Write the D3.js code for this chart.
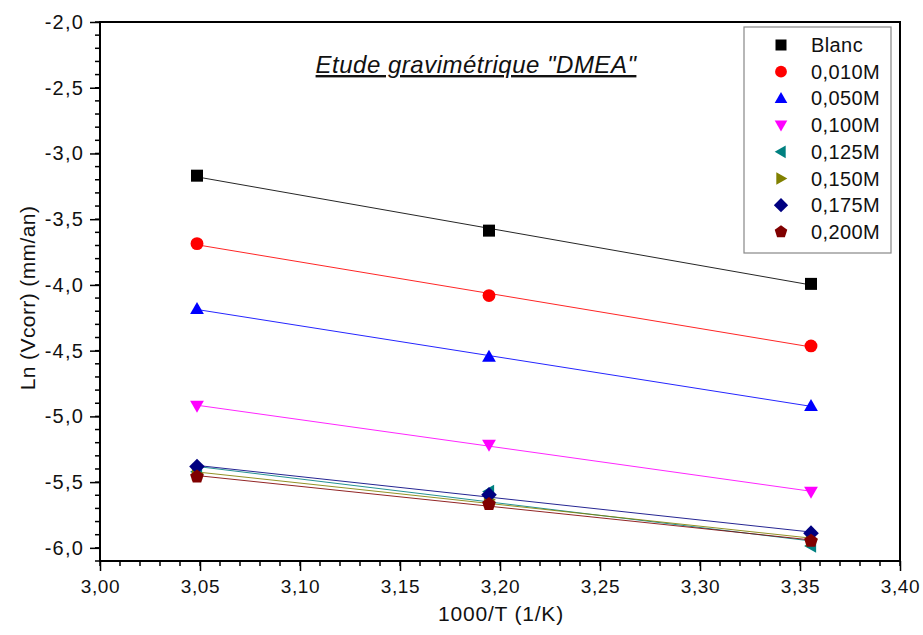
<!DOCTYPE html>
<html>
<head>
<meta charset="utf-8">
<script src="https://cdn.jsdelivr.net/npm/d3@7"></script>
<style>
  html, body { margin: 0; padding: 0; background: #fff; }
  svg { display: block; font-family: "Liberation Sans", Arial, sans-serif; }
</style>
</head>
<body>
<svg id="chart" width="923" height="635"></svg>
<script>
// Temperatures (1000/T, 1/K)
const invT = [3.0485, 3.1945, 3.3555];

// Series names, colours and symbols
const seriesNames = ["Blanc", "0,010M", "0,050M", "0,100M", "0,125M", "0,150M", "0,175M", "0,200M"];
const seriesColors = ["#000000", "#ff0000", "#0000ff", "#ff00ff", "#008080", "#808000", "#000080", "#800000"];
const seriesSymbols = ["square", "circle", "triUp", "triDown", "triLeft", "triRight", "diamond", "pentagon"];

// Ln(Vcorr) values, one array per concentration
const blanc   = [-3.169, -3.587, -3.992];
const c010    = [-3.686, -4.081, -4.464];
const c050    = [-4.183, -4.545, -4.920];
const c100    = [-4.920, -5.217, -5.574];
const c125    = [-5.422, -5.572, -5.985];
const c150    = [-5.437, -5.635, -5.939];
const c175    = [-5.382, -5.597, -5.888];
const c200    = [-5.458, -5.668, -5.947];
const seriesValues = [blanc, c010, c050, c100, c125, c150, c175, c200];

// Axis ticks
const xTicks = [3.00, 3.05, 3.10, 3.15, 3.20, 3.25, 3.30, 3.35, 3.40];
const yTicks = [-2.0, -2.5, -3.0, -3.5, -4.0, -4.5, -5.0, -5.5, -6.0];

const svg = d3.select("#chart");
const pLeft = 100, pRight = 900, pTop = 22, pBottom = 561;

const x = d3.scaleLinear().domain([3.00, 3.40]).range([pLeft, pRight]);
const y = d3.scaleLinear().domain([-6.1, -2.0]).range([pBottom, pTop]);

const fmt = (d, n) => d.toFixed(n).replace(".", ",");

// Minor ticks
const xMinor = d3.range(3.00, 3.4001, 0.01);
const yMinor = d3.range(-6.1, -1.999, 0.1);

const tickFont = (size, ls) => g => g.selectAll("text").attr("font-size", size).attr("fill", "#111")
  .attr("letter-spacing", ls).attr("font-family", "Liberation Sans, Arial, sans-serif");

const gx = svg.append("g").attr("transform", `translate(0,${pBottom})`);
gx.selectAll("line.minor").data(xMinor).join("line")
  .attr("x1", d => x(d)).attr("x2", d => x(d)).attr("y1", 0).attr("y2", 5)
  .attr("stroke", "#000").attr("stroke-width", 1.5);
gx.call(d3.axisBottom(x).tickValues(xTicks).tickSize(10).tickPadding(9).tickFormat(d => fmt(d, 2)))
  .call(g => g.select(".domain").remove())
  .call(g => g.selectAll(".tick line").attr("stroke-width", 1.5))
  .call(tickFont(19, 0.6));

const gy = svg.append("g").attr("transform", `translate(${pLeft},0)`);
gy.selectAll("line.minor").data(yMinor).join("line")
  .attr("x1", 0).attr("x2", -5).attr("y1", d => y(d)).attr("y2", d => y(d))
  .attr("stroke", "#000").attr("stroke-width", 1.5);
gy.call(d3.axisLeft(y).tickValues(yTicks).tickSize(10).tickPadding(6).tickFormat(d => fmt(d, 1)))
  .call(g => g.select(".domain").remove())
  .call(g => g.selectAll(".tick line").attr("stroke-width", 1.5))
  .call(tickFont(20, 1.2));

// Frame
svg.append("rect").attr("x", pLeft).attr("y", pTop).attr("width", pRight - pLeft).attr("height", pBottom - pTop)
  .attr("fill", "none").attr("stroke", "#000").attr("stroke-width", 2);

// Axis titles
svg.append("text").attr("x", 501).attr("y", 621).attr("text-anchor", "middle")
  .attr("font-size", 21).attr("letter-spacing", 0.8).attr("fill", "#111").text("1000/T (1/K)");
svg.append("text").attr("transform", "translate(35,298) rotate(-90)").attr("text-anchor", "middle")
  .attr("font-size", 21).attr("letter-spacing", 0.4).attr("fill", "#111").text("Ln (Vcorr) (mm/an)");

// Title
svg.append("text").attr("x", 476).attr("y", 73).attr("text-anchor", "middle")
  .attr("font-size", 24).attr("font-style", "italic").attr("text-decoration", "underline")
  .attr("letter-spacing", 0.5).attr("fill", "#111").text("Etude gravimétrique \"DMEA\"");

// Marker shapes
function symbolPath(kind, s) {
  const h = s / 2;
  switch (kind) {
    case "square": return `M${-h},${-h}H${h}V${h}H${-h}Z`;
    case "circle": return d3.symbol(d3.symbolCircle, Math.PI * h * h * 1.15)();
    case "triUp": return `M0,${-h * 1.15}L${h * 1.15},${h * 0.85}L${-h * 1.15},${h * 0.85}Z`;
    case "triDown": return `M0,${h * 1.15}L${h * 1.15},${-h * 0.85}L${-h * 1.15},${-h * 0.85}Z`;
    case "triLeft": return `M${-h * 1.15},0L${h * 0.85},${-h * 1.15}L${h * 0.85},${h * 1.15}Z`;
    case "triRight": return `M${h * 1.15},0L${-h * 0.85},${-h * 1.15}L${-h * 0.85},${h * 1.15}Z`;
    case "diamond": return `M0,${-h * 1.3}L${h * 1.3},0L0,${h * 1.3}L${-h * 1.3},0Z`;
    case "pentagon": {
      const r = h * 1.2;
      return d3.range(5).map(i => {
        const a = -Math.PI / 2 + i * 2 * Math.PI / 5;
        return (i ? "L" : "M") + (r * Math.cos(a)).toFixed(2) + "," + (r * Math.sin(a)).toFixed(2);
      }).join("") + "Z";
    }
  }
}

// Linear fit for each series
function fit(xs, ys) {
  const mx = d3.mean(xs), my = d3.mean(ys);
  const b = d3.sum(xs, (v, i) => (v - mx) * (ys[i] - my)) / d3.sum(xs, v => (v - mx) * (v - mx));
  return { a: my - b * mx, b };
}

const plot = svg.append("g");
seriesValues.forEach((vals, k) => {
  const f = fit(invT, vals);
  const x0 = d3.min(invT), x1 = d3.max(invT);
  plot.append("line")
    .attr("x1", x(x0)).attr("y1", y(f.a + f.b * x0))
    .attr("x2", x(x1)).attr("y2", y(f.a + f.b * x1))
    .attr("stroke", seriesColors[k]).attr("stroke-width", 1).attr("opacity", 0.85);
});
// Overlapping markers: higher concentrations first, diamond and pentagon last on top
const markerOrder = [4, 5, 6, 7, 3, 2, 1, 0];
markerOrder.forEach(k => {
  plot.selectAll(null).data(invT.map((t, i) => [t, seriesValues[k][i]])).join("path")
    .attr("transform", d => `translate(${x(d[0])},${y(d[1])})`)
    .attr("d", symbolPath(seriesSymbols[k], 12))
    .attr("fill", seriesColors[k]);
});

// Legend
const lg = svg.append("g");
lg.append("rect").attr("x", 744).attr("y", 27).attr("width", 147).attr("height", 226)
  .attr("fill", "#fff").attr("stroke", "#888").attr("stroke-width", 1.2);
seriesNames.forEach((name, k) => {
  const yy = 45 + k * 26.7;
  lg.append("path").attr("transform", `translate(781,${yy})`)
    .attr("d", symbolPath(seriesSymbols[k], 11)).attr("fill", seriesColors[k]);
  lg.append("text").attr("x", 811).attr("y", yy + 7).attr("font-size", 20)
    .attr("letter-spacing", 0.4).attr("fill", "#111").text(name);
});
</script>
</body>
</html>
